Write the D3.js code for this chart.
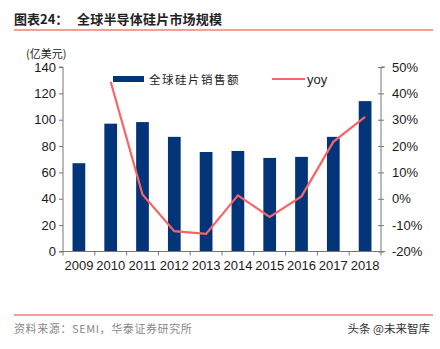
<!DOCTYPE html>
<html><head><meta charset="utf-8">
<script src="https://cdn.jsdelivr.net/npm/d3@7"></script>
<style>body{margin:0;background:#fff}svg{display:block}</style>
</head><body>
<svg id="c" width="440" height="349"></svg>
<script>
const years = ["2009","2010","2011","2012","2013","2014","2015","2016","2017","2018"];
const sales = [67, 97, 98.2, 87, 75.5, 76.3, 71, 71.8, 87, 114.1];
const yoyYears = ["2010","2011","2012","2013","2014","2015","2016","2017","2018"];
const yoy = [44.4, 1.6, -12.3, -13.3, 1.3, -6.9, 0.9, 21.6, 31.1];
const leftTicks = [0,20,40,60,80,100,120,140];
const rightTicks = [-20,-10,0,10,20,30,40,50];

const svg = d3.select("#c");
const L = 63, R = 381, T = 67, B = 251.5;
const x = d3.scaleBand().domain(years).range([L, R]).paddingInner(0.6).paddingOuter(0.3);
const xb = d3.scaleBand().domain(years).range([L, R]);
const y = d3.scaleLinear().domain([0,140]).range([B, T]);
const y2 = d3.scaleLinear().domain([-20,50]).range([B, T]);
const font = "'Liberation Sans', Arial, sans-serif";
const cjk = "'Noto Sans CJK SC', sans-serif";

// title
svg.append("text").attr("x",14).attr("y",24).attr("font-family",cjk).attr("font-weight","bold")
  .attr("font-size",13).attr("fill","#222").text("图表24：");
svg.append("text").attr("x",77).attr("y",24).attr("font-family",cjk).attr("font-weight","bold")
  .attr("font-size",13).attr("letter-spacing",0.2).attr("fill","#222").text("全球半导体硅片市场规模");
svg.append("line").attr("x1",14).attr("x2",433).attr("y1",30).attr("y2",30).attr("stroke","#F07F72").attr("stroke-width",1.5);
svg.append("line").attr("x1",14).attr("x2",433).attr("y1",315).attr("y2",315).attr("stroke","#F07F72").attr("stroke-width",1.5);
svg.append("text").attr("x",26).attr("y",58).attr("font-family",cjk).attr("font-size",11).attr("fill","#222").text("(亿美元)");

// bars
svg.append("g").selectAll("rect").data(years).join("rect")
  .attr("x", d => x(d)).attr("width", x.bandwidth())
  .attr("y", (d,i) => y(sales[i])).attr("height", (d,i) => B - y(sales[i]))
  .attr("fill","#013479");

// line
const line = d3.line().x((d,i) => xb(yoyYears[i]) + xb.bandwidth()/2).y(d => y2(d));
svg.append("path").datum(yoy).attr("d", line).attr("fill","none").attr("stroke","#FA6464").attr("stroke-width",2.2);

// axes
const axisColor = "#777";
const gl = svg.append("g").attr("transform",`translate(${L},0)`)
  .call(d3.axisLeft(y).tickValues(leftTicks).tickSize(4).tickPadding(3));
const gr = svg.append("g").attr("transform",`translate(${R},0)`)
  .call(d3.axisRight(y2).tickValues(rightTicks).tickSize(4).tickPadding(7).tickFormat(d => d + "%"));
gr.selectAll(".tick line").attr("x1",-3).attr("x2",3);
const gb = svg.append("g").attr("transform",`translate(0,${B})`)
  .call(d3.axisBottom(xb).tickSize(0).tickPadding(9));
// category boundary ticks
svg.append("g").selectAll("line").data(d3.range(years.length+1)).join("line")
  .attr("x1", i => L + i*xb.step()).attr("x2", i => L + i*xb.step())
  .attr("y1", B).attr("y2", B+4).attr("stroke",axisColor);
[gl,gr,gb].forEach(g => {
  g.selectAll(".domain").attr("stroke",axisColor);
  g.selectAll(".tick line").attr("stroke",axisColor);
  g.selectAll("text").attr("font-family",font).attr("font-size",13).attr("fill","#1a1a1a");
});
gl.select(".domain").attr("d",`M-4,${T}H0V${B}`);
gr.select(".domain").attr("d",`M4,${T}H0V${B}`);
gb.select(".domain").attr("d",`M${L-4},0H${R+4}`);

// legend
svg.append("rect").attr("x",113).attr("y",76).attr("width",31).attr("height",6).attr("fill","#013479");
svg.append("text").attr("x",149).attr("y",83.5).attr("font-family",cjk).attr("font-size",11.5)
  .attr("letter-spacing",1.5).attr("fill","#222").text("全球硅片销售额");
svg.append("line").attr("x1",272).attr("x2",305).attr("y1",79).attr("y2",79).attr("stroke","#FA6464").attr("stroke-width",2.2);
svg.append("text").attr("x",307).attr("y",83.5).attr("font-family",font).attr("font-size",13).attr("fill","#222").text("yoy");

// footer
svg.append("text").attr("x",14).attr("y",333).attr("font-family",cjk).attr("font-size",11)
  .attr("letter-spacing",0.6).attr("fill","#888").text("资料来源：SEMI，华泰证券研究所");
svg.append("text").attr("x",430).attr("y",333).attr("text-anchor","end").attr("font-family",cjk).attr("font-size",11.5)
  .attr("fill","#333").text("头条 @未来智库");
</script>
</body></html>
